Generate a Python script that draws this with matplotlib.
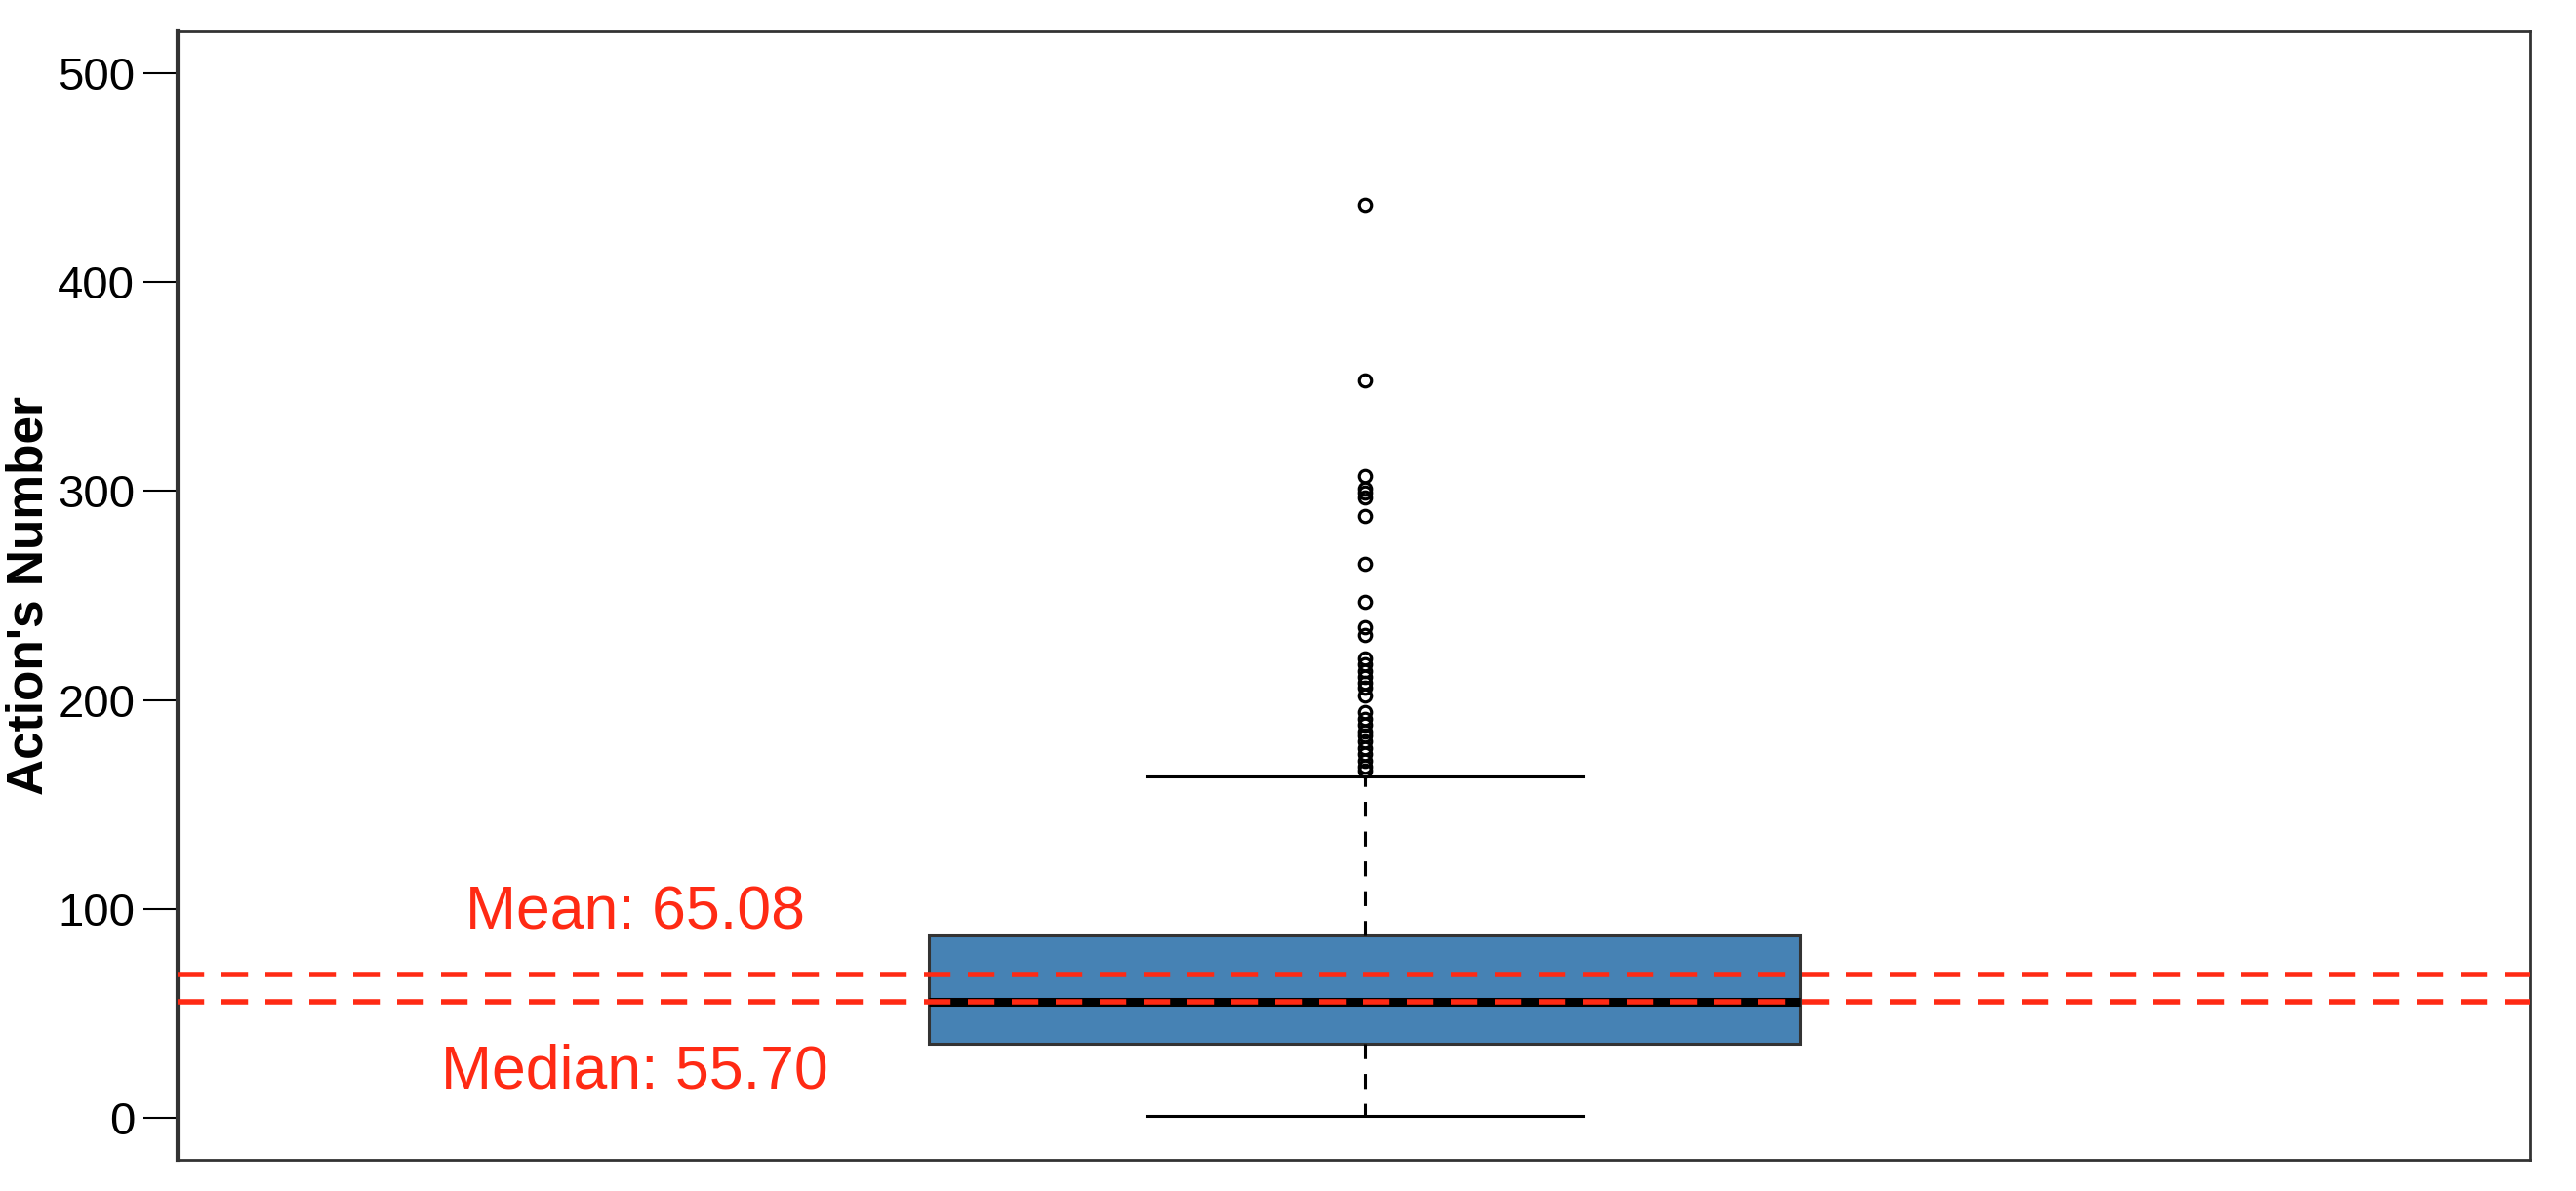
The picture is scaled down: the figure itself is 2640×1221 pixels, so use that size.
import matplotlib
matplotlib.use("Agg")
import matplotlib.pyplot as plt

plt.rcParams['font.family'] = ['Liberation Sans', 'DejaVu Sans']

# ---- data ----
q1 = 35.5
median = 55.7
q3 = 87.5
whisker_low = 1.0
whisker_high = 163.5
outliers = [437, 353, 307, 301, 299, 297, 288, 265, 247, 235, 231,
            220, 217, 214, 211, 208, 206, 202, 194, 191, 188, 185,
            183, 180, 177, 174, 171, 168, 166]
mean_line = 68.8
median_line = 55.7
mean_label = "Mean: 65.08"
median_label = "Median: 55.70"
yticks = [0, 100, 200, 300, 400, 500]
ylabel = "Action's Number"

red = '#FF2A14'

fig = plt.figure(figsize=(26.4, 12.21), dpi=100)
ax = fig.add_axes([0.0689, 0.0262, 0.9133, 0.9478])

stats = [dict(med=median, q1=q1, q3=q3, whislo=whisker_low,
              whishi=whisker_high, fliers=outliers)]
ax.bxp(stats, positions=[1.005], widths=0.4, patch_artist=True,
       showcaps=True,
       boxprops=dict(facecolor='#4682B4', edgecolor='#333333', linewidth=2.2),
       medianprops=dict(color='black', linewidth=6.5, solid_capstyle='butt'),
       whiskerprops=dict(color='black', linewidth=2.2, linestyle=(0, (5, 5))),
       capprops=dict(color='black', linewidth=2.2),
       capwidths=0.2,
       flierprops=dict(marker='o', markerfacecolor='none', markeredgecolor='black',
                       markersize=9, markeredgewidth=2.3))

ax.axhline(mean_line, color=red, linewidth=4, linestyle=(0, (4.9, 3.2)), zorder=5)
ax.axhline(median_line, color=red, linewidth=4, linestyle=(0, (4.9, 3.2)), zorder=5)

ax.text(0.67, 98, mean_label, color=red, fontsize=45, ha='center', va='center')
ax.text(0.67, 22, median_label, color=red, fontsize=45, ha='center', va='center')

ax.set_xlim(0.46, 1.54)
ax.set_ylim(-20, 520)
ax.set_xticks([])
ax.set_yticks(yticks)
ax.set_yticklabels([str(t) for t in yticks])
ax.tick_params(axis='y', length=25, width=1.5, pad=6.5, labelsize=34, colors='black')

ax.set_ylabel(ylabel, fontsize=37, fontweight='bold')
ax.yaxis.set_label_coords(-0.053, 0.5)

for s in ax.spines.values():
    s.set_linewidth(2)
    s.set_color('#333333')
ax.spines['left'].set_linewidth(3)

fig.savefig('out.png', dpi=100)
